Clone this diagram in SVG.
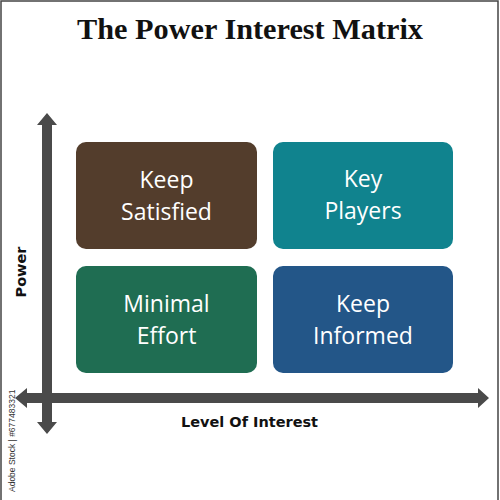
<svg xmlns="http://www.w3.org/2000/svg" width="500" height="500" viewBox="0 0 500 500">
<style>
.box-text{font-family:"Open Sans","Noto Sans",sans-serif;font-size:23px;fill:#ffffff;text-anchor:middle}
.axis-label{font-family:"DejaVu Sans",sans-serif;font-weight:bold;font-size:14.5px;fill:#111111;text-anchor:middle}
.axis{fill:#4a4a4a}
</style>
<rect x="0" y="0" width="500" height="500" fill="#ffffff"/>
<path d="M1,500 V1 H498 V500" fill="none" stroke="#444444" stroke-width="1.5"/>
<text x="250" y="39" font-family="'Liberation Serif',serif" font-weight="bold" font-size="29" text-anchor="middle" fill="#111111" textLength="346" lengthAdjust="spacingAndGlyphs">The Power Interest Matrix</text>
<g id="connectors">
<polygon class="axis" points="47,113 57,125 52,125 52,422 57,422 47,434 37,422 42,422 42,125 37,125"/>
<polygon class="axis" points="15,398 27,388 27,393 478,393 478,388 489,398 478,408 478,403 27,403 27,408"/>
</g>
<g id="keep-satisfied">
<rect x="76" y="142" width="181" height="107" rx="10" fill="#533d2c"/>
<text class="box-text" x="166.5" y="188">Keep</text>
<text class="box-text" x="166.5" y="220">Satisfied</text>
</g>
<g id="key-players">
<rect x="273" y="142" width="180" height="107" rx="10" fill="#10838e"/>
<text class="box-text" x="363" y="187">Key</text>
<text class="box-text" x="363" y="219">Players</text>
</g>
<g id="minimal-effort">
<rect x="76" y="266" width="181" height="107" rx="10" fill="#1f6d52"/>
<text class="box-text" x="166.5" y="312">Minimal</text>
<text class="box-text" x="166.5" y="344">Effort</text>
</g>
<g id="keep-informed">
<rect x="273" y="266" width="180" height="107" rx="10" fill="#235688"/>
<text class="box-text" x="363" y="312">Keep</text>
<text class="box-text" x="363" y="344">Informed</text>
</g>
<text class="axis-label" x="249.5" y="427">Level Of Interest</text>
<text class="axis-label" transform="translate(26,272) rotate(-90)" x="0" y="0">Power</text>
<text transform="translate(15,492) rotate(-90)" x="0" y="0" font-family="'Liberation Sans',sans-serif" font-size="8.5" fill="#333333">Adobe Stock | #677483321</text>
</svg>
